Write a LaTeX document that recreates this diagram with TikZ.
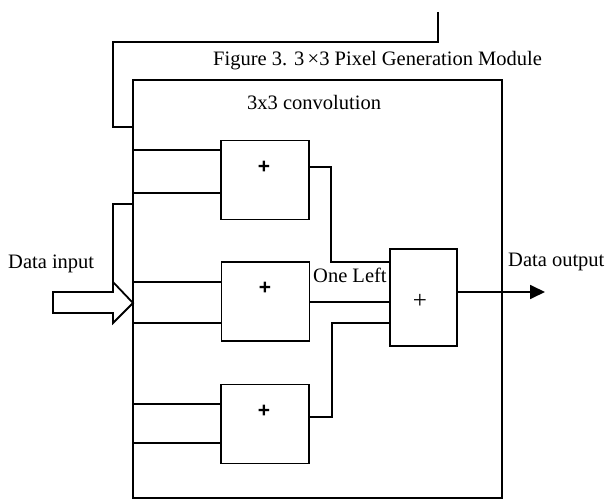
\documentclass[tikz,border=0pt]{standalone}
\usepackage{fontspec}
\setmainfont{Liberation Serif}
\newfontfamily\plusfont{Liberation Sans}
\usetikzlibrary{arrows.meta}
\tikzset{
  ln/.style={line width=1.8pt, line join=miter},
  addbox/.style={draw, line width=1.8pt, minimum width=88pt, minimum height=79pt, inner sep=0pt},
  lbl/.style={inner sep=0pt, anchor=base west, font=\fontsize{20.5}{24}\selectfont},
  smallplus/.style={inner sep=0pt, font=\plusfont\bfseries\fontsize{21}{24}\selectfont},
}
\begin{document}
\begin{tikzpicture}[x=1pt,y=-1pt]
\useasboundingbox (0,0) rectangle (606,500);
% main box
\node[draw, line width=1.8pt, minimum width=369pt, minimum height=418pt, inner sep=0pt] (main) at (317.5,289) {};
% adders
\node[addbox] (A1) at (265,180) {};
\node[addbox] (A2) at (265.5,301.5) {};
\node[addbox] (A3) at (265,424) {};
\node[draw, line width=1.8pt, minimum width=67pt, minimum height=97pt, inner sep=0pt] (F) at (423.5,297.5) {};
\node[smallplus] (p1) at (264,167) {+};
\node[smallplus] (p2) at (265,288) {+};
\node[smallplus] (p3) at (264,411) {+};
\node[inner sep=0pt, font=\fontsize{25}{28}\selectfont] (pf) at (420,301) {+};
% texts
\node[lbl] (cap) at (213,66) {Figure 3. 3\,×3 Pixel Generation Module};
\node[lbl] (conv) at (247,110) {3x3 convolution};
\node[lbl] (din) at (8,269) {Data input};
\node[lbl] (dout) at (508,267) {Data output};
\node[lbl] (one) at (313,283) {One Left};
% inputs
\draw[ln] (main.west |- 0,150) -- (A1.west |- 0,150);
\draw[ln] (main.west |- 0,193) -- (A1.west |- 0,193);
\draw[ln] (main.west |- 0,282) -- (A2.west |- 0,282);
\draw[ln] (main.west |- 0,323) -- (A2.west |- 0,323);
\draw[ln] (main.west |- 0,404) -- (A3.west |- 0,404);
\draw[ln] (main.west |- 0,443) -- (A3.west |- 0,443);
% outputs to final adder
\draw[ln] (A1.east |- 0,167) -- (331,167) -- (331,262) -- (F.west |- 0,262);
\draw[ln] (A2.east |- 0,302) -- (F.west |- 0,302);
\draw[ln] (A3.east |- 0,417) -- (332,417) -- (332,323) -- (F.west |- 0,323);
% output arrow
\coordinate (outend) at (545,292);
\draw[ln, -{Triangle[length=15pt,width=14pt]}] (F.east |- 0,292) -- (outend);
% feedback from top
\coordinate (topin) at (438,12);
\draw[ln] (topin) -- (438,42) -- (113,42) -- (113,127) -- (main.west |- 0,127);
% bracket to input arrow
\draw[ln] (main.west |- 0,204) -- (113,204) -- (113,282);
% hollow input arrow
\draw[ln, fill=white] (53,292) -- (113,292) -- (113,282) -- (133,303) -- (113,323) -- (113,313) -- (53,313) -- cycle;
\end{tikzpicture}
\end{document}
